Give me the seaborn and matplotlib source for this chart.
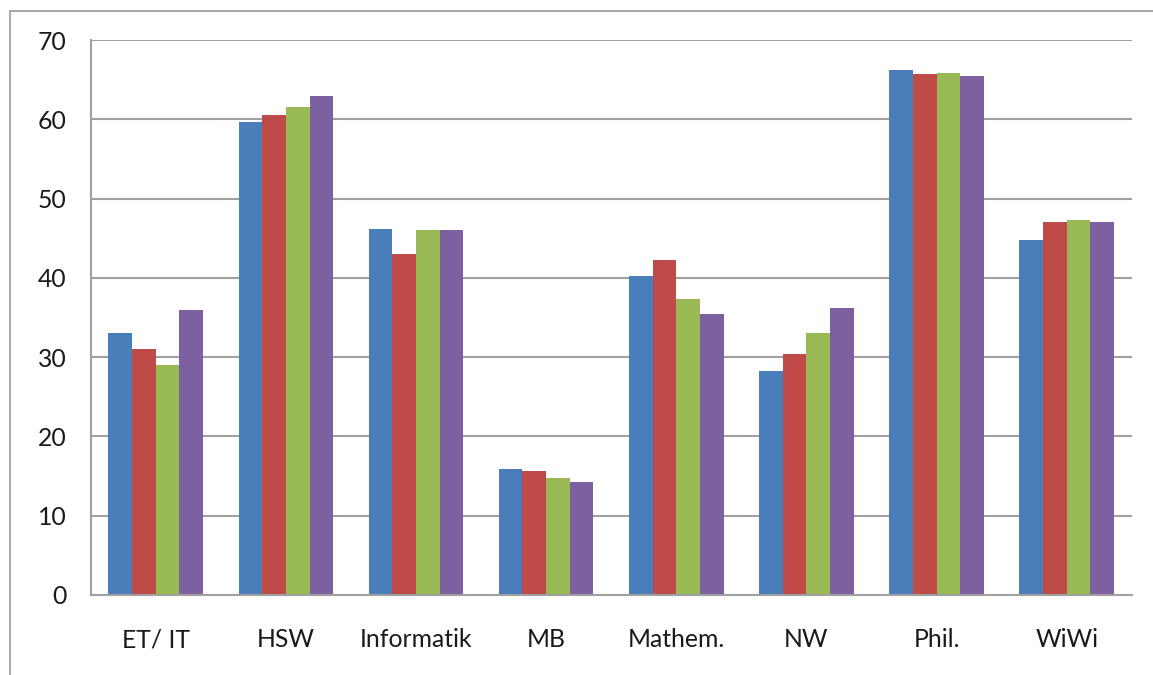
import numpy as np
import pandas as pd
import matplotlib
matplotlib.use("Agg")
import matplotlib.pyplot as plt
from matplotlib.lines import Line2D
import seaborn as sns

# Fachbereiche and the four series per Fach
faecher = ["ET/ IT", "HSW", "Informatik", "MB", "Mathem.", "NW", "Phil.", "WiWi"]
reihen = ["Reihe 1", "Reihe 2", "Reihe 3", "Reihe 4"]
werte_r1 = [33.1, 59.6, 46.1, 15.9, 40.2, 28.2, 66.2, 44.8]
werte_r2 = [31.0, 60.6, 43.0, 15.7, 42.3, 30.4, 65.7, 47.1]
werte_r3 = [29.0, 61.5, 46.0, 14.7, 37.3, 33.1, 65.9, 47.3]
werte_r4 = [36.0, 63.0, 46.0, 14.3, 35.4, 36.2, 65.5, 47.1]
y_ticks = [0, 10, 20, 30, 40, 50, 60, 70]

farben = ["#4A7EBB", "#BE4B48", "#98B954", "#7D60A0"]

df = pd.DataFrame({
    "Fach": faecher * 4,
    "Reihe": np.repeat(reihen, len(faecher)),
    "Wert": werte_r1 + werte_r2 + werte_r3 + werte_r4,
})

sns.set_theme(style="white")
plt.rcParams["font.family"] = ["Lato", "DejaVu Sans"]

fig = plt.figure(figsize=(11.53, 6.75), dpi=100)
ax = fig.add_axes([90.7 / 1153, 1 - 595 / 675, (1131.7 - 90.7) / 1153, (595 - 40) / 675])

sns.barplot(
    data=df, x="Fach", y="Wert", hue="Reihe", order=faecher, hue_order=reihen,
    palette=farben, saturation=1, width=4 / 5.5, gap=0, legend=False,
    linewidth=0, ax=ax, zorder=3,
)

grid_col = "#A0A0A0"
text_col = "#1A1A1A"
ax.set_xlim(-0.5, len(faecher) - 0.5)
ax.set_ylim(0, 70)
ax.set_yticks(y_ticks)
ax.set_yticklabels([str(v) for v in y_ticks])
ax.yaxis.grid(True, color=grid_col, linewidth=1.5, zorder=0)
ax.set_axisbelow(True)

# category boundaries carry the tick marks, names sit between them
ax.set_xticks(np.arange(-0.5, len(faecher), 1.0))
ax.set_xticklabels([])
ax.set_xticks(np.arange(len(faecher)), minor=True)
ax.set_xticklabels(faecher, minor=True)
ax.tick_params(axis="x", which="major", length=6.5, width=1.5, color=grid_col, direction="out")
ax.tick_params(axis="x", which="minor", length=0, pad=24, labelsize=17.8, labelcolor=text_col)
ax.tick_params(axis="y", length=6.5, width=1.5, color=grid_col, direction="out",
               pad=11, labelsize=17.8, labelcolor=text_col)

for side in ["top", "right"]:
    ax.spines[side].set_visible(False)
for side in ["left", "bottom"]:
    ax.spines[side].set_color(grid_col)
    ax.spines[side].set_linewidth(1.5)
    ax.spines[side].set_zorder(4)

ax.set_xlabel("")
ax.set_ylabel("")

# outer chart-area frame
fx = 10.5 / 1153
fy = 1 - 10.7 / 675
fig.add_artist(Line2D([fx, fx], [0, fy], transform=fig.transFigure, color=grid_col, linewidth=1.3))
fig.add_artist(Line2D([fx, 1], [fy, fy], transform=fig.transFigure, color=grid_col, linewidth=1.3))

fig.savefig("out.png", dpi=100, facecolor="white")
